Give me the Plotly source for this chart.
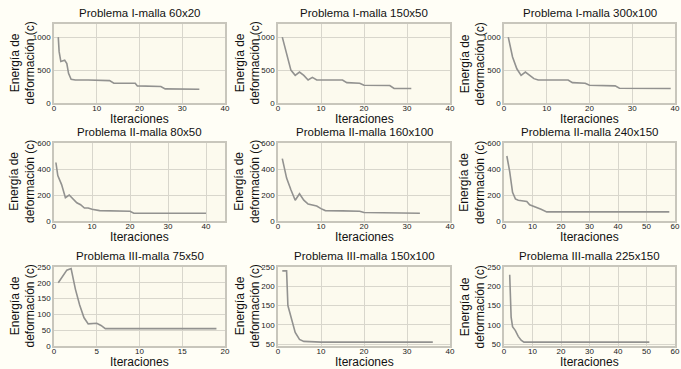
import plotly.graph_objects as go

W, H = 681, 369

titles = ["Problema I-malla 60x20", "Problema I-malla 150x50", "Problema I-malla 300x100",
          "Problema II-malla 80x50", "Problema II-malla 160x100", "Problema II-malla 240x150",
          "Problema III-malla 75x50", "Problema III-malla 150x100", "Problema III-malla 225x150"]

# Panel data (iteration, strain energy)
x1 = [1, 1.2, 1.6, 2, 2.5, 3, 3.4, 4, 5, 8, 12, 13, 14, 19, 19.5, 25, 26, 34]
y1 = [1000, 780, 630, 640, 650, 600, 450, 360, 350, 350, 350, 340, 300, 300, 260, 250, 215, 210]
x2 = [1, 2, 3, 4, 5, 6, 7, 8, 9, 12, 15, 16, 19, 20, 26, 27, 31]
y2 = [1000, 760, 500, 420, 470, 420, 350, 390, 350, 350, 350, 310, 300, 270, 265, 220, 220]
x3 = [1, 2, 3, 4, 5, 6, 7, 8, 9, 12, 15, 16, 19, 20, 26, 27, 39]
y3 = [1000, 700, 520, 420, 470, 420, 370, 350, 350, 350, 350, 310, 300, 270, 260, 225, 220]
x4 = [0.5, 1, 2, 3, 4, 5, 6, 7, 8, 9, 10, 12, 16, 20, 21, 30, 40]
y4 = [450, 350, 280, 180, 200, 170, 140, 125, 100, 100, 90, 80, 75, 75, 60, 60, 60]
x5 = [1, 2, 3, 4, 5, 6, 7, 8, 9, 10, 11, 15, 19, 20, 26, 33]
y5 = [480, 330, 240, 160, 210, 160, 130, 120, 115, 95, 80, 78, 75, 65, 62, 60]
x6 = [1, 2, 3, 4, 5, 8, 9, 11, 13, 15, 30, 45, 58]
y6 = [500, 380, 220, 170, 160, 150, 125, 110, 90, 70, 70, 70, 70]
x7 = [0.5, 1, 1.5, 2, 2.5, 3, 3.5, 4, 5, 5.5, 6, 10, 15, 19]
y7 = [200, 220, 240, 245, 180, 130, 90, 70, 72, 65, 55, 55, 55, 55]
x8 = [1, 2, 2.3, 3, 4, 5, 6, 10, 20, 30, 36]
y8 = [240, 240, 150, 120, 80, 62, 57, 55, 55, 55, 55]
x9 = [2, 2.5, 3, 4, 5, 6, 7, 20, 35, 51]
y9 = [230, 120, 95, 85, 70, 60, 55, 55, 55, 55]

xs = [x1, x2, x3, x4, x5, x6, x7, x8, x9]
ys = [y1, y2, y3, y4, y5, y6, y7, y8, y9]

x_ranges = [[0, 40], [0, 40], [0, 40], [0, 45], [0, 40], [0, 60], [0, 20], [0, 40], [0, 60]]
x_ticks = [[0, 10, 20, 30, 40]] * 5 + [[0, 10, 20, 30, 40, 50, 60], [0, 5, 10, 15, 20],
                                       [0, 10, 20, 30, 40], [0, 10, 20, 30, 40, 50, 60]]
y_ranges = [[0, 1200]] * 3 + [[0, 600]] * 3 + [[0, 250], [45, 250], [45, 250]]
y_ticks = [[0, 500, 1000]] * 3 + [[0, 200, 400, 600]] * 3 + [[0, 50, 100, 150, 200, 250],
                                                            [50, 100, 150, 200, 250],
                                                            [50, 100, 150, 200, 250]]

col_px = [(54, 225), (278, 450), (504, 675)]
row_px = [(24, 103), (143, 221), (267, 346)]
ylab_x = [22, 247, 472]

fig = go.Figure()
font = "Liberation Sans, Arial, sans-serif"
annotations = []
for i in range(9):
    r, c = divmod(i, 3)
    n = "" if i == 0 else str(i + 1)
    fig.add_trace(go.Scatter(x=xs[i], y=ys[i], mode="lines", line=dict(color="#929290", width=1.6),
                             xaxis="x" + n, yaxis="y" + n, showlegend=False, hoverinfo="skip"))
    x0, x1p = col_px[c]
    t0, b0 = row_px[r]
    axcommon = dict(showline=True, mirror=True, linecolor="#c8c6bc", linewidth=1.5,
                    showgrid=True, gridcolor="#d8d6cc", gridwidth=1, zeroline=False, automargin=False,
                    ticks="", tickfont=dict(size=8, color="#222", family=font))
    fig.layout["xaxis" + n] = dict(domain=[x0 / W, x1p / W], range=x_ranges[i], tickvals=x_ticks[i],
                                   anchor="y" + n, ticklabelstandoff=-3, **axcommon)
    fig.layout["yaxis" + n] = dict(domain=[1 - b0 / H, 1 - t0 / H], range=y_ranges[i], tickvals=y_ticks[i],
                                   anchor="x" + n, ticklabelstandoff=0, **axcommon)
    common = dict(xref="paper", yref="paper", xanchor="center", yanchor="middle", showarrow=False)
    annotations.append(dict(text=titles[i], x=(x0 + x1p) / 2 / W, y=1 - (t0 - 11) / H,
                            font=dict(size=11.5, color="#111", family=font), **common))
    annotations.append(dict(text="Iteraciones", x=(x0 + x1p) / 2 / W, y=1 - (b0 + 15.5) / H,
                            font=dict(size=12, color="#111", family=font), **common))
    annotations.append(dict(text="Energía de<br>deformación (c)", x=ylab_x[c] / W, y=1 - (t0 + b0) / 2 / H,
                            textangle=-90, font=dict(size=12, color="#111", family=font), **common))

fig.update_layout(template="none", width=W, height=H, margin=dict(l=0, r=0, t=0, b=0),
                  paper_bgcolor="#fffef6", plot_bgcolor="#fcfaee", annotations=annotations)
fig.write_html("out.html", config={"displayModeBar": False},
               post_script="document.body.style.margin='0';")
